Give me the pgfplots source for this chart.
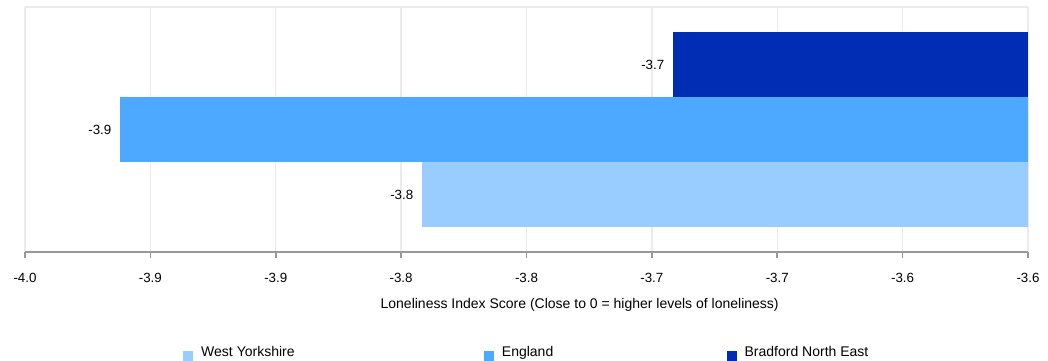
\documentclass[border=0pt]{standalone}
\usepackage{pgfplots}
\pgfplotsset{compat=1.18}
\usepackage{pgfplotstable}
\usepackage{fontspec}
\setmainfont{Liberation Sans}
\definecolor{cWY}{HTML}{99CCFF}
\definecolor{cEN}{HTML}{4DA8FF}
\definecolor{cBNE}{HTML}{002DB3}
\definecolor{gridc}{HTML}{EBEBEB}
\definecolor{axisc}{HTML}{999999}

% values: Loneliness Index Score
\pgfplotstableread{
y v label
0 -3.8417 -3.8
}\wy
\pgfplotstableread{
y v label
1 -3.9621 -3.9
}\en
\pgfplotstableread{
y v label
2 -3.7416 -3.7
}\bne

\begin{document}
\fontsize{10}{12}\selectfont
\begin{tikzpicture}
\begin{axis}[
  scale only axis, width=752.25pt, height=183.75pt,
  xbar, bar width=48.75pt, bar shift=0pt,
  xmin=-0.4, xmax=0, ymin=-0.877, ymax=2.885,
  axis x line*=bottom, axis y line*=left,
  y axis line style={draw=none},
  x axis line style={axisc, line width=1.2pt},
  ytick=\empty,
  xtick={-0.4,-0.35,-0.3,-0.25,-0.2,-0.15,-0.1,-0.05,0},
  xticklabels={-4.0,-3.9,-3.9,-3.8,-3.8,-3.7,-3.7,-3.6,-3.6},
  tick align=outside, major tick length=4.5pt,
  x tick style={axisc, line width=1.2pt},
  xticklabel style={font=\fontsize{10}{12}\selectfont, text=black, yshift=-8pt},
  xmajorgrids, grid style={gridc, line width=1.1pt},
  xlabel={Loneliness Index Score (Close to 0 = higher levels of loneliness)},
  xlabel style={at={(axis description cs:0.553,-0.214)}, anchor=center, font=\fontsize{10.5}{12}\selectfont},
  clip=false,
  point meta=explicit symbolic,
  nodes near coords,
  nodes near coords align={center},
  every node near coord/.append style={font=\fontsize{10}{12}\selectfont, text=black, anchor=east, xshift=-3pt},
  legend columns=3,
  legend image code/.code={\fill[#1] (0pt,-6pt) rectangle (7.5pt,1.5pt); \path (13.5pt,0pt);},
  legend style={at={(axis description cs:0.1575,-0.412)}, anchor=west, draw=none, fill=none,
    inner sep=0pt, font=\fontsize{10.5}{12}\selectfont,
    nodes={inner xsep=0pt, inner ysep=1pt},
    /tikz/column 2/.style={column sep=142pt},
    /tikz/column 4/.style={column sep=130pt}},
]
\addplot[fill=cWY, draw=none] table[x expr=\thisrow{v}+3.6, y=y, meta=label] {\wy};
\addlegendentry{West Yorkshire}
\addplot[fill=cEN, draw=none] table[x expr=\thisrow{v}+3.6, y=y, meta=label] {\en};
\addlegendentry{England}
\addplot[fill=cBNE, draw=none] table[x expr=\thisrow{v}+3.6, y=y, meta=label] {\bne};
\addlegendentry{Bradford North East}
\draw[gridc, line width=1.1pt] (rel axis cs:0,1) -- (rel axis cs:1,1);
\coordinate (bbA) at (rel axis cs:-0.02493,1.02857);
\coordinate (bbB) at (rel axis cs:1.01994,-0.44082);
\end{axis}
\pgfresetboundingbox
\path[use as bounding box] (bbA) rectangle (bbB);
\end{tikzpicture}
\end{document}
